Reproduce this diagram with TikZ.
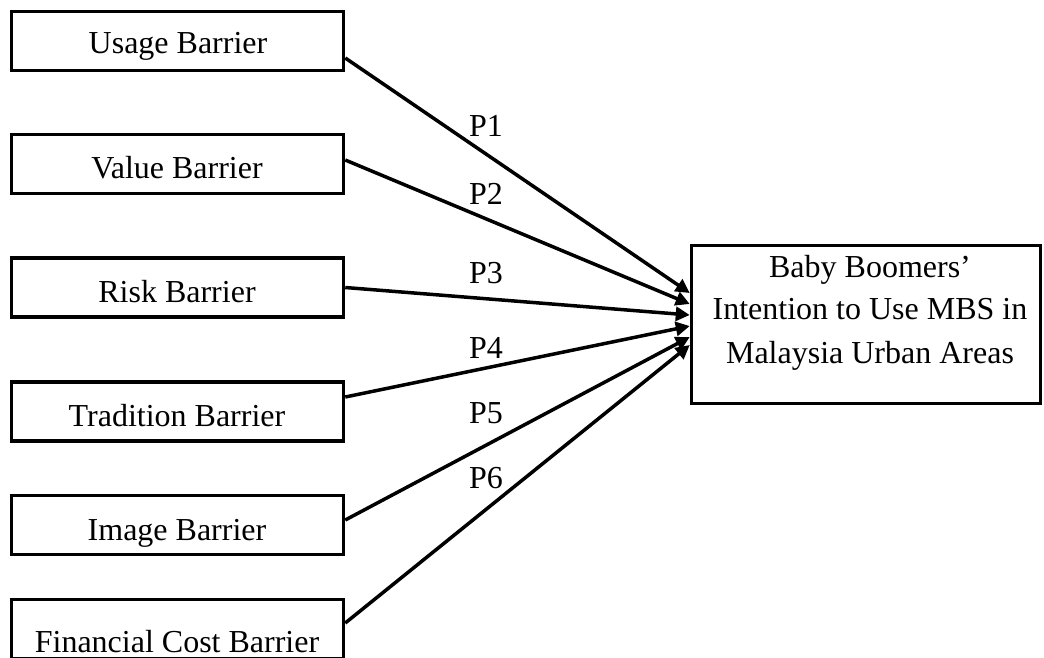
\documentclass[tikz,border=0pt]{standalone}
\usepackage{fontspec}
\setmainfont{Liberation Serif}
\usetikzlibrary{arrows.meta}
\begin{document}
\begin{tikzpicture}[x=1pt,y=-1pt,
  box/.style={draw, line width=3.5pt, minimum width=332pt, minimum height=59pt, inner sep=0pt},
  bigbox/.style={draw, line width=3.5pt, minimum width=349pt, minimum height=158pt, inner sep=0pt},
  lbl/.style={font=\fontsize{32}{38}\selectfont, inner sep=0pt, anchor=base},
  plbl/.style={font=\fontsize{32}{38}\selectfont, inner sep=0pt},
  conn/.style={line width=3.5pt, -{Triangle[length=14pt,width=14pt]}}]
\useasboundingbox (0,0) rectangle (1044,657);
\clip (0,0) rectangle (1044,657);
% boxes
\node[box] (usage) at (177.5,41) {};
\node[box] (value) at (177.5,164) {};
\node[box] (risk) at (177.5,287.5) {};
\node[box] (trad) at (177.5,411.5) {};
\node[box] (image) at (177.5,525) {};
\node[box] (fin) at (177.5,629) {};
\node[bigbox] (target) at (866,324.5) {};
% box texts
\node[lbl] (usaget) at (178,53) {Usage Barrier};
\node[lbl] (valuet) at (177,178) {Value Barrier};
\node[lbl] (riskt) at (177,302) {Risk Barrier};
\node[lbl] (tradt) at (177,426) {Tradition Barrier};
\node[lbl] (imaget) at (177,540) {Image Barrier};
\node[lbl] (fint) at (177,652) {Financial Cost Barrier};
\node[lbl] (tg1) at (870,277) {Baby Boomers’};
\node[lbl] (tg2) at (870,319) {Intention to Use MBS in};
\node[lbl] (tg3) at (870,363) {Malaysia Urban Areas};
% connectors
\draw[conn] ([yshift=-17pt]usage.east) -- ([yshift=31.5pt]target.west);
\draw[conn] ([yshift=4pt]value.east) -- ([yshift=20.5pt]target.west);
\draw[conn] ([yshift=0pt]risk.east) -- ([yshift=9.5pt]target.west);
\draw[conn] ([yshift=14.5pt]trad.east) -- ([yshift=-1.5pt]target.west);
\draw[conn] ([yshift=5pt]image.east) -- ([yshift=-12.5pt]target.west);
\draw[conn] ([yshift=6pt]fin.east) -- ([yshift=-20.5pt]target.west);
% path labels
\node[plbl] (p1) at (486,126) {P1};
\node[plbl] (p2) at (486,194) {P2};
\node[plbl] (p3) at (486,273) {P3};
\node[plbl] (p4) at (486,348) {P4};
\node[plbl] (p5) at (486,413) {P5};
\node[plbl] (p6) at (486,478) {P6};
\end{tikzpicture}
\end{document}
